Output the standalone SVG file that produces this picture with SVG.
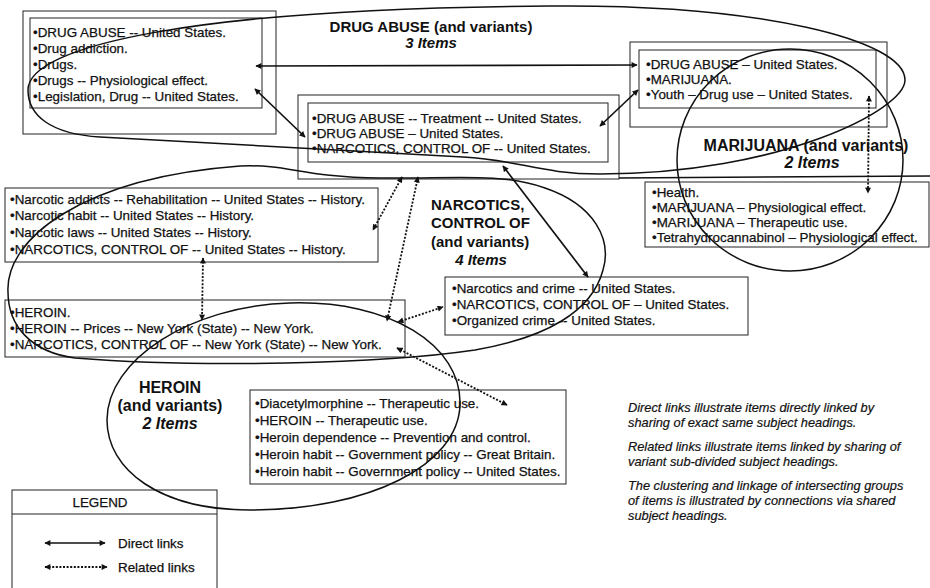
<svg xmlns="http://www.w3.org/2000/svg" width="930" height="588" viewBox="0 0 930 588">
<defs>
<style>
.t{font-family:"Liberation Sans",Arial,sans-serif;font-size:13.4px;fill:#111;stroke:#111;stroke-width:0.25}
.lb{font-family:"Liberation Sans",Arial,sans-serif;font-weight:bold;font-size:15px;fill:#111;text-anchor:middle}
.it{font-style:italic}
.note{font-family:"Liberation Sans",Arial,sans-serif;font-style:italic;font-size:12.8px;fill:#111;stroke:#111;stroke-width:0.2}
.box{fill:none;stroke:#222;stroke-width:1}
.ell{fill:none;stroke:#111;stroke-width:1.5}
.direct{fill:none;stroke:#111;stroke-width:1.7;marker-start:url(#ah);marker-end:url(#ah)}
.related{fill:none;stroke:#111;stroke-width:1.8;stroke-dasharray:2 1.6;marker-start:url(#ah);marker-end:url(#ah)}
</style>
<marker id="ah" viewBox="0 0 10 10" refX="9" refY="5" markerWidth="7" markerHeight="6" markerUnits="userSpaceOnUse" orient="auto-start-reverse">
<path d="M0,0 L10,5 L0,10 z" fill="#111"/>
</marker>
</defs>
<rect width="930" height="588" fill="#fff"/>

<g id="node-drug-abuse-1">
<rect class="box" x="23" y="11" width="253" height="123"/>
<rect class="box" x="30" y="18" width="232" height="90"/>
<text class="t" x="33" y="37">•DRUG ABUSE -- United States.</text>
<text class="t" x="33" y="53">•Drug addiction.</text>
<text class="t" x="33" y="69">•Drugs.</text>
<text class="t" x="33" y="85">•Drugs -- Physiological effect.</text>
<text class="t" x="33" y="101">•Legislation, Drug -- United States.</text>
</g>

<g id="label-drug-abuse">
<text class="lb" x="431" y="32">DRUG ABUSE (and variants)</text>
<text class="lb it" x="431" y="48">3 Items</text>
</g>

<g id="node-drug-abuse-2">
<rect class="box" x="298" y="95" width="321" height="84"/>
<rect class="box" x="308" y="103" width="300" height="59"/>
<text class="t" x="312" y="123">•DRUG ABUSE -- Treatment -- United States.</text>
<text class="t" x="312" y="138">•DRUG ABUSE – United States.</text>
<text class="t" x="312" y="153">•NARCOTICS, CONTROL OF -- United States.</text>
</g>

<g id="node-drug-abuse-3">
<rect class="box" x="630" y="42" width="257" height="85"/>
<rect class="box" x="639" y="50" width="237" height="58"/>
<text class="t" x="646" y="69">•DRUG ABUSE – United States.</text>
<text class="t" x="646" y="84">•MARIJUANA.</text>
<text class="t" x="646" y="99">•Youth – Drug use – United States.</text>
</g>

<g id="label-marijuana">
<text class="lb" x="806" y="151" style="font-size:16px">MARIJUANA (and variants)</text>
<text class="lb it" x="812" y="168" style="font-size:16px">2 Items</text>
</g>

<g id="node-marijuana">
<rect class="box" x="645" y="182" width="284" height="65"/>
<text class="t" x="652" y="197">•Health.</text>
<text class="t" x="652" y="212">•MARIJUANA – Physiological effect.</text>
<text class="t" x="652" y="227">•MARIJUANA – Therapeutic use.</text>
<text class="t" x="652" y="242">•Tetrahydrocannabinol – Physiological effect.</text>
</g>

<g id="node-narcotics-history">
<rect class="box" x="5" y="188" width="373" height="74"/>
<text class="t" x="10" y="204">•Narcotic addicts -- Rehabilitation -- United States -- History.</text>
<text class="t" x="10" y="220">•Narcotic habit -- United States -- History.</text>
<text class="t" x="10" y="237">•Narcotic laws -- United States -- History.</text>
<text class="t" x="10" y="254">•NARCOTICS, CONTROL OF -- United States -- History.</text>
</g>

<g id="label-narcotics">
<text class="lb" x="431" y="210" style="text-anchor:start">NARCOTICS,</text>
<text class="lb" x="431" y="228" style="text-anchor:start">CONTROL OF</text>
<text class="lb" x="431" y="247" style="text-anchor:start">(and variants)</text>
<text class="lb it" x="481" y="265">4 Items</text>
</g>

<g id="node-narcotics-crime">
<rect class="box" x="445" y="277" width="303" height="58"/>
<text class="t" x="452" y="293">•Narcotics and crime -- United States.</text>
<text class="t" x="452" y="309">•NARCOTICS, CONTROL OF – United States.</text>
<text class="t" x="452" y="325">•Organized crime -- United States.</text>
</g>

<g id="node-heroin-ny">
<rect class="box" x="5" y="300" width="400" height="57"/>
<text class="t" x="10" y="317">•HEROIN.</text>
<text class="t" x="10" y="333">•HEROIN -- Prices -- New York (State) -- New York.</text>
<text class="t" x="10" y="349">•NARCOTICS, CONTROL OF -- New York (State) -- New York.</text>
</g>

<g id="label-heroin">
<text class="lb" x="170" y="393" style="font-size:16px">HEROIN</text>
<text class="lb" x="170" y="411" style="font-size:16px">(and variants)</text>
<text class="lb it" x="170" y="429" style="font-size:16px">2 Items</text>
</g>

<g id="node-heroin-therapeutic">
<rect class="box" x="250" y="390" width="316" height="94"/>
<text class="t" x="255" y="408">•Diacetylmorphine -- Therapeutic use.</text>
<text class="t" x="255" y="425">•HEROIN -- Therapeutic use.</text>
<text class="t" x="255" y="442">•Heroin dependence -- Prevention and control.</text>
<text class="t" x="255" y="459">•Heroin habit -- Government policy -- Great Britain.</text>
<text class="t" x="255" y="476">•Heroin habit -- Government policy -- United States.</text>
</g>

<g id="notes">
<text class="note" x="628" y="412">Direct links illustrate items directly linked by</text>
<text class="note" x="628" y="427">sharing of exact same subject headings.</text>
<text class="note" x="628" y="451">Related links illustrate items linked by sharing of</text>
<text class="note" x="628" y="466">variant sub-divided subject headings.</text>
<text class="note" x="628" y="490">The clustering and linkage of intersecting groups</text>
<text class="note" x="628" y="505">of items is illustrated by connections via shared</text>
<text class="note" x="628" y="520">subject headings.</text>
</g>

<g id="legend">
<rect class="box" x="12" y="490" width="205" height="110"/>
<line x1="12" y1="514" x2="217" y2="514" stroke="#222" stroke-width="1"/>
<text class="t" x="100" y="507" style="text-anchor:middle">LEGEND</text>
<line class="direct" x1="45" y1="543" x2="105" y2="543"/>
<text class="t" x="118" y="548">Direct links</text>
<line class="related" x1="45" y1="567" x2="107" y2="567"/>
<text class="t" x="118" y="572">Related links</text>
</g>

<g id="clusters">
<path id="cluster-drug-abuse" class="ell" d="M28,90 C28,45 200,8 550,6 C760,4 905,40 905,80 C905,110 780,174 600,174 C540,174 520,160 463,157 C380,152 250,146 100,137 C50,134 28,115 28,90 Z"/>
<ellipse id="cluster-marijuana" class="ell" cx="790" cy="160" rx="113" ry="111"/>
<path id="cluster-narcotics" class="ell" d="M8,292 C5,240 80,178 240,166 C290,164 300,177 380,178 C450,179 500,172 545,188 C595,205 612,240 603,270 C592,312 545,338 475,350 C380,364 200,368 75,358 C30,352 8,325 8,292 Z"/>
<line class="ell" x1="619" y1="178" x2="930" y2="176"/>
<path id="cluster-heroin" class="ell" d="M290,303 C390,300 462,345 460,405 C458,465 370,510 250,510 C160,510 107,470 107,420 C107,360 190,306 290,303 Z"/>
</g>

<g id="connectors">
<line class="direct" x1="256" y1="66" x2="637" y2="65"/>
<line class="direct" x1="255" y1="89" x2="305" y2="137"/>
<line class="direct" x1="600" y1="126" x2="638" y2="90"/>
<line class="direct" x1="503" y1="166" x2="588" y2="277"/>
<line class="related" x1="402" y1="177" x2="373" y2="230"/>
<line class="related" x1="418" y1="177" x2="387" y2="321"/>
<line class="related" x1="203" y1="258" x2="202" y2="320"/>
<line class="related" x1="398" y1="322" x2="443" y2="307"/>
<line class="related" x1="397" y1="348" x2="507" y2="405"/>
<line class="related" x1="869" y1="96" x2="868" y2="193"/>
</g>
</svg>
